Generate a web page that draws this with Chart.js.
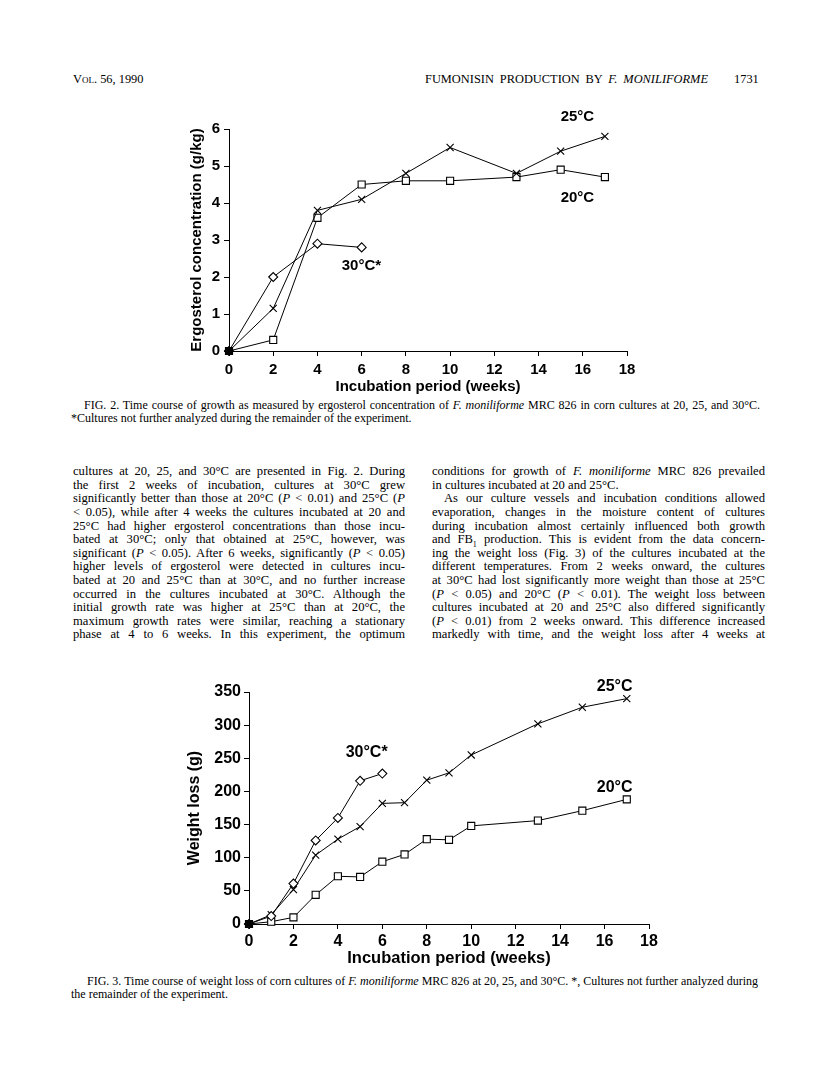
<!DOCTYPE html>
<html><head><meta charset="utf-8">
<script src="https://cdn.jsdelivr.net/npm/chart.js@4.4.0/dist/chart.umd.min.js"></script>
<style>
html,body{margin:0;padding:0;background:#fff;}
body{width:816px;height:1078px;position:relative;overflow:hidden;font-family:"Liberation Serif","Times New Roman",serif;color:#000;}
.ln{position:absolute;white-space:nowrap;font-size:12.6px;line-height:13.6px;height:13.6px;}
.cap{position:absolute;white-space:nowrap;font-size:12px;line-height:12.4px;height:12.4px;}
.hd{position:absolute;white-space:nowrap;font-size:12.4px;line-height:13px;height:13px;}
canvas{position:absolute;}
</style></head>
<body>
<div class="hd" style="left:73px;top:73px;"><span style="font-variant:small-caps">Vol.</span> 56, 1990</div>
<div class="hd" data-w="283" style="left:425px;top:73px;">FUMONISIN PRODUCTION BY <i>F. MONILIFORME</i></div>
<div class="hd" style="left:734px;top:73px;">1731</div>

<canvas id="fig2" width="472" height="296" style="left:188px;top:100px;width:472px;height:296px;"></canvas>

<div class="cap" data-w="676" style="left:84px;top:399px;">FIG. 2. Time course of growth as measured by ergosterol concentration of <i>F. moniliforme</i> MRC 826 in corn cultures at 20, 25, and 30°C.</div>
<div class="cap" style="left:71px;top:411.5px;">*Cultures not further analyzed during the remainder of the experiment.</div>

<canvas id="fig3" width="520" height="308" style="left:185px;top:660px;width:520px;height:308px;"></canvas>

<div class="cap" data-w="671" style="left:87px;top:975px;">FIG. 3. Time course of weight loss of corn cultures of <i>F. moniliforme</i> MRC 826 at 20, 25, and 30°C. *, Cultures not further analyzed during</div>
<div class="cap" style="left:71px;top:988px;">the remainder of the experiment.</div>

<script>
// ---------- Fig. 2 data: ergosterol concentration (g/kg) ----------
const weeksFig2 = [0, 2, 4, 6, 8, 10, 13, 15, 17];
const ergo20 = [0, 0.3, 3.6, 4.5, 4.6, 4.6, 4.7, 4.9, 4.7];
const ergo25 = [0, 1.15, 3.8, 4.1, 4.8, 5.5, 4.8, 5.4, 5.8];
const weeksFig2_30 = [0, 2, 4, 6];
const ergo30 = [0, 2.0, 2.9, 2.8];

// ---------- Fig. 3 data: weight loss (g) ----------
const weeksFig3 = [0, 1, 2, 3, 4, 5, 6, 7, 8, 9, 10, 13, 15, 17];
const loss20 = [0, 3.5, 10, 44, 72, 71, 94, 105, 128, 127, 148, 156, 171, 188];
const loss25 = [0, 14, 52, 104, 128, 147, 182, 183, 217, 228, 255, 302, 327, 340];
const weeksFig3_30 = [0, 1, 2, 3, 4, 5, 6];
const loss30 = [0, 12, 61, 126, 160, 216, 227];

// tick values
const xTickValues = [0, 2, 4, 6, 8, 10, 12, 14, 16, 18];
const yTicksFig2 = [0, 1, 2, 3, 4, 5, 6];
const yTicksFig3 = [0, 50, 100, 150, 200, 250, 300, 350];

// series labels written in the plots
const seriesNames = ['20°C', '25°C', '30°C*'];
const fig2LabelPos = [[15.0, 4.15], [15.0, 6.32], [5.1, 2.3]];
const fig3LabelPos = [[15.65, 206], [15.65, 358], [4.35, 259]];

// ---------- body text ----------
const leftLines = [
 'cultures at 20, 25, and 30°C are presented in Fig. 2. During',
 'the first 2 weeks of incubation, cultures at 30°C grew',
 'significantly better than those at 20°C (<i>P</i> &lt; 0.01) and 25°C (<i>P</i>',
 '&lt; 0.05), while after 4 weeks the cultures incubated at 20 and',
 '25°C had higher ergosterol concentrations than those incu-',
 'bated at 30°C; only that obtained at 25°C, however, was',
 'significant (<i>P</i> &lt; 0.05). After 6 weeks, significantly (<i>P</i> &lt; 0.05)',
 'higher levels of ergosterol were detected in cultures incu-',
 'bated at 20 and 25°C than at 30°C, and no further increase',
 'occurred in the cultures incubated at 30°C. Although the',
 'initial growth rate was higher at 25°C than at 20°C, the',
 'maximum growth rates were similar, reaching a stationary',
 'phase at 4 to 6 weeks. In this experiment, the optimum'
];
const rightLines = [
 'conditions for growth of <i>F. moniliforme</i> MRC 826 prevailed',
 'in cultures incubated at 20 and 25°C.',
 'As our culture vessels and incubation conditions allowed',
 'evaporation, changes in the moisture content of cultures',
 'during incubation almost certainly influenced both growth',
 'and FB<sub style="font-size:8px;line-height:0">1</sub> production. This is evident from the data concern-',
 'ing the weight loss (Fig. 3) of the cultures incubated at the',
 'different temperatures. From 2 weeks onward, the cultures',
 'at 30°C had lost significantly more weight than those at 25°C',
 '(<i>P</i> &lt; 0.05) and 20°C (<i>P</i> &lt; 0.01). The weight loss between',
 'cultures incubated at 20 and 25°C also differed significantly',
 '(<i>P</i> &lt; 0.01) from 2 weeks onward. This difference increased',
 'markedly with time, and the weight loss after 4 weeks at'
];

function addLines(lines, left, width, noJust, indent) {
  lines.forEach((html, i) => {
    const d = document.createElement('div');
    d.className = 'ln';
    const ind = (indent[i] || 0);
    d.style.left = (left + ind) + 'px';
    d.style.top = (465.2 + i * 13.6) + 'px';
    d.innerHTML = html;
    if (!noJust.includes(i)) d.dataset.w = width - ind;
    document.body.appendChild(d);
  });
}
addLines(leftLines, 73, 332, [], {});
addLines(rightLines, 432, 333, [1], {2: 12});

function justify() {
  document.querySelectorAll('[data-w]').forEach(el => {
    const W = parseFloat(el.dataset.w);
    el.style.wordSpacing = '0px';
    el.style.letterSpacing = '0px';
    let w = el.getBoundingClientRect().width;
    const spaces = (el.textContent.match(/ /g) || []).length;
    const chars = el.textContent.length;
    let ws = spaces > 0 ? (W - w) / spaces : 0;
    if (ws < -1.2) {
      // too wide: tighten letters a little as well
      const ls = (W - w + 1.2 * spaces) / chars;
      el.style.letterSpacing = ls + 'px';
      w = el.getBoundingClientRect().width;
      ws = spaces > 0 ? (W - w) / spaces : 0;
    }
    el.style.wordSpacing = ws + 'px';
  });
}
justify();

// ---------- charts ----------
const textLabels = {
  id: 'textLabels',
  afterDatasetsDraw(chart, args, opts) {
    const {ctx, scales: {x, y}} = chart;
    ctx.save();
    ctx.font = opts.font;
    ctx.fillStyle = '#000';
    ctx.textAlign = 'left';
    ctx.textBaseline = 'middle';
    opts.items.forEach(it => ctx.fillText(it.text, x.getPixelForValue(it.x), y.getPixelForValue(it.y)));
    ctx.restore();
  }
};

function series(xs, ys, style, radius) {
  return {
    data: xs.map((x, i) => ({x, y: ys[i]})),
    showLine: true, borderColor: '#000', borderWidth: 1, tension: 0,
    pointStyle: style, pointRadius: radius, pointHoverRadius: radius,
    pointBackgroundColor: c => (c.dataIndex === 0 ? '#000' : '#fff'),
    pointBorderColor: '#000', pointBorderWidth: 1.1,
    clip: false
  };
}

function makeChart(id, datasets, yTicks, g) {
  const fam = '"Liberation Sans", Arial, Helvetica, sans-serif';
  new Chart(document.getElementById(id), {
    type: 'scatter',
    data: {datasets},
    options: {
      responsive: false, animation: false, devicePixelRatio: 1,
      layout: {padding: {left: 0, top: g.padTop, right: g.padRight, bottom: 0}},
      plugins: {
        legend: {display: false}, tooltip: {enabled: false},
        textLabels: {font: 'bold ' + g.labelSize + 'px ' + fam, items: g.labels}
      },
      scales: {
        x: {
          type: 'linear', min: xTickValues[0], max: xTickValues[xTickValues.length - 1],
          afterBuildTicks: s => { s.ticks = xTickValues.map(v => ({value: v})); },
          ticks: {color: '#000', font: {family: fam, size: g.tickSize, weight: 'bold', lineHeight: 1}, padding: g.xPad, maxRotation: 0, autoSkip: false},
          grid: {drawOnChartArea: false, color: '#000', tickLength: 5, tickWidth: 1},
          border: {display: true, color: '#000', width: 1},
          title: {display: true, text: 'Incubation period (weeks)', color: '#000', font: {family: fam, size: g.xTitleSize, weight: 'bold'}, padding: 0},
          afterFit: s => { s.height = g.xH; }
        },
        y: {
          type: 'linear', min: yTicks[0], max: yTicks[yTicks.length - 1],
          afterBuildTicks: s => { s.ticks = yTicks.map(v => ({value: v})); },
          ticks: {color: '#000', font: {family: fam, size: g.tickSize, weight: 'bold', lineHeight: 1}, padding: g.yPad, autoSkip: false},
          grid: {drawOnChartArea: false, color: '#000', tickLength: 5, tickWidth: 1},
          border: {display: true, color: '#000', width: 1},
          title: {display: true, text: g.yTitle, color: '#000', font: {family: fam, size: g.yTitleSize, weight: 'bold'}, padding: 0},
          afterFit: s => { s.width = g.yW; }
        }
      }
    },
    plugins: [textLabels]
  });
}

makeChart('fig2', [
  series(weeksFig2_30, ergo30, 'rectRot', 4.5),
  series(weeksFig2, ergo25, 'crossRot', 5),
  series(weeksFig2, ergo20, 'rect', 5)
], yTicksFig2, {
  padTop: 29, padRight: 33, yW: 41, xH: 45, xPad: 6, yPad: 4,
  tickSize: 15, xTitleSize: 15, yTitleSize: 15, labelSize: 15,
  yTitle: 'Ergosterol concentration (g/kg)',
  labels: seriesNames.map((t, i) => ({text: t, x: fig2LabelPos[i][0], y: fig2LabelPos[i][1]}))
});

makeChart('fig3', [
  series(weeksFig3_30, loss30, 'rectRot', 4.5),
  series(weeksFig3, loss25, 'crossRot', 5),
  series(weeksFig3, loss20, 'rect', 5)
], yTicksFig3, {
  padTop: 32, padRight: 56, yW: 64, xH: 44, xPad: 5, yPad: 3,
  tickSize: 16, xTitleSize: 16.5, yTitleSize: 16, labelSize: 16,
  yTitle: 'Weight loss (g)',
  labels: seriesNames.map((t, i) => ({text: t, x: fig3LabelPos[i][0], y: fig3LabelPos[i][1]}))
});
</script>
</body></html>
